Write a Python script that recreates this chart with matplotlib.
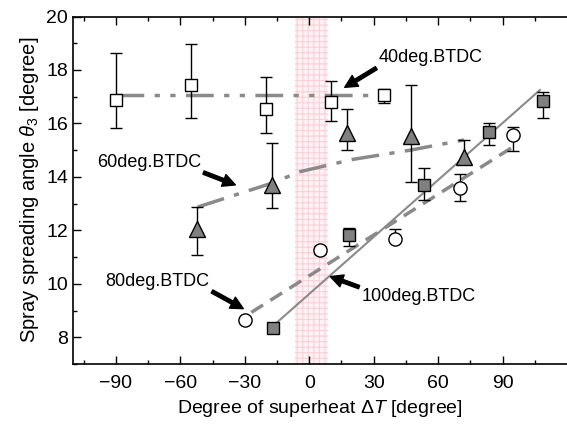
import numpy as np
import matplotlib
matplotlib.use("Agg")
import matplotlib.pyplot as plt

plt.rcParams['font.family'] = ['Liberation Sans', 'DejaVu Sans']
plt.rcParams['mathtext.fontset'] = 'custom'
plt.rcParams['mathtext.rm'] = 'Liberation Sans'
plt.rcParams['mathtext.it'] = 'Liberation Sans:italic'
plt.rcParams['hatch.linewidth'] = 0.8

# 40deg.BTDC (open squares)
x40 = [-90, -55, -20, 10, 35]
y40 = [16.88, 17.44, 16.53, 16.81, 17.05]
lo40 = [15.84, 16.19, 15.66, 16.10, 16.78]
hi40 = [18.65, 18.97, 17.75, 17.59, 17.30]
line40_x = [-90, 31]
line40_y = [17.07, 17.07]

# 60deg.BTDC (grey triangles)
x60 = [-52.5, -17.5, 17.5, 47.5, 72]
y60 = [12.04, 13.70, 15.63, 15.53, 14.76]
lo60 = [11.08, 12.83, 15.00, 13.82, 14.50]
hi60 = [12.87, 15.25, 16.53, 17.44, 15.38]
line60_x = [-52, -18, -4, 20, 47, 72]
line60_y = [12.87, 13.75, 14.20, 14.65, 15.00, 15.38]

# 80deg.BTDC (open circles)
x80 = [-30, 5, 40, 70, 95]
y80 = [8.63, 11.27, 11.68, 13.60, 15.57]
lo80 = [8.55, 11.12, 11.60, 13.08, 14.97]
hi80 = [8.72, 11.42, 12.05, 14.10, 15.88]
line80_x = [-27, 95]
line80_y = [8.93, 15.13]

# 100deg.BTDC (grey squares)
x100 = [-16.7, 18.6, 53.5, 83.7, 108.7]
y100 = [8.35, 11.83, 13.70, 15.67, 16.85]
lo100 = [8.30, 11.40, 13.14, 15.20, 16.20]
hi100 = [8.40, 12.10, 14.33, 16.00, 17.19]
line100_x = [-15.8, 107.4]
line100_y = [8.50, 17.25]

band = (-6.5, 8.5)

fig = plt.figure(figsize=(5.67, 4.25), dpi=100)
ax = fig.add_axes([73/567, 1-364/425, 494/567, (364-16.5)/425])

ax.axvspan(band[0], band[1], facecolor='#fff3f5', edgecolor='#fbd0d7',
           hatch='+++', lw=0, zorder=0)

grey = '#8a8a8a'
ax.plot(line40_x, line40_y, color=grey, lw=2.5, dashes=[8, 3, 1.5, 3, 1.5, 3], zorder=2)
ax.plot(line60_x, line60_y, color=grey, lw=2.5, dashes=[8, 3, 1.5, 3], zorder=2)
ax.plot(line80_x, line80_y, color=grey, lw=2.5, dashes=[4, 2.5], zorder=2)
ax.plot(line100_x, line100_y, color=grey, lw=1.5, zorder=2)

def series(x, y, lo, hi, marker, fc, ms):
    y = np.array(y)
    err = [y - np.array(lo), np.array(hi) - y]
    ax.errorbar(x, y, yerr=err, fmt='none', ecolor='k', elinewidth=1,
                capsize=4, capthick=1, zorder=3)
    ax.plot(x, y, ls='none', marker=marker, mfc=fc, mec='k', mew=1,
            ms=ms, zorder=4)

series(x40, y40, lo40, hi40, 's', 'white', 9)
series(x60, y60, lo60, hi60, '^', '#808080', 11)
series(x80, y80, lo80, hi80, 'o', 'white', 9.5)
series(x100, y100, lo100, hi100, 's', '#808080', 9)

arrow = dict(facecolor='black', edgecolor='black', width=2.5, headwidth=9,
             headlength=9, shrink=0)
ax.annotate('40deg.BTDC', xy=(16.5, 17.35), xytext=(32.5, 18.45),
            fontsize=13, va='center', ha='left', arrowprops=arrow)
ax.annotate('60deg.BTDC', xy=(-34.4, 13.7), xytext=(-99, 14.52),
            fontsize=13, va='center', ha='left', arrowprops=arrow)
ax.annotate('80deg.BTDC', xy=(-30.7, 9.07), xytext=(-95, 10.09),
            fontsize=13, va='center', ha='left', arrowprops=arrow)
ax.annotate('100deg.BTDC', xy=(9.8, 10.27), xytext=(24.5, 9.52),
            fontsize=13, va='center', ha='left', arrowprops=arrow)

ax.set_xlim(-110, 120)
ax.set_ylim(7, 20)
ax.set_xticks([-90, -60, -30, 0, 30, 60, 90])
ax.set_xticks(np.arange(-105, 120, 15), minor=True)
ax.set_yticks([8, 10, 12, 14, 16, 18, 20])
ax.set_yticks(np.arange(7, 20.5, 1), minor=True)
ax.tick_params(which='both', direction='in', top=True, right=False,
               labelsize=14, width=1)
ax.tick_params(axis='x', which='major', pad=8)
ax.tick_params(which='major', length=6)
ax.tick_params(which='minor', length=3)
ax.spines['right'].set_visible(False)
for s in ['left', 'bottom', 'top']:
    ax.spines[s].set_linewidth(1.2)

ax.set_xlabel(r'Degree of superheat $\mathit{\Delta T}$ [degree]', fontsize=14, labelpad=4)
ax.set_ylabel(r'Spray spreading angle $\mathit{\theta}_3$ [degree]', fontsize=14.5, labelpad=4)

fig.savefig('out.png', dpi=100)
